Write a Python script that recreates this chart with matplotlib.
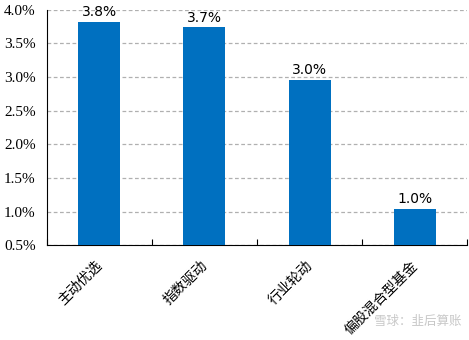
import numpy as np
import matplotlib
matplotlib.use('Agg')
import matplotlib.pyplot as plt
from matplotlib.ticker import FuncFormatter

# Dữ liệu
categories = ['主动优选', '指数驱动', '行业轮动', '偏股混合型基金']
values = [3.82, 3.74, 2.96, 1.04]
labels = ['3.8%', '3.7%', '3.0%', '1.0%']

BAR_COLOR = '#0070C0'

fig = plt.figure(figsize=(4.69, 3.40), dpi=100)
ax = fig.add_axes([0.100, 0.279, 0.896, 0.692])

x = np.arange(len(categories))
ax.bar(x, values, width=0.4, color=BAR_COLOR, zorder=3)

ax.set_ylim(0.5, 4.0)
ax.set_xlim(-0.5, len(categories) - 0.5)
ax.set_yticks(np.arange(0.5, 4.01, 0.5))
ax.yaxis.set_major_formatter(FuncFormatter(lambda v, p: f"{v:.1f}%"))
for t in ax.get_yticklabels():
    t.set_fontfamily('Liberation Serif')
    t.set_fontsize(11)
ax.tick_params(axis='y', length=0, pad=8)

# grid nét đứt
ax.yaxis.grid(True, linestyle=(0, (3, 2)), color='#B0B0B0', linewidth=0.9, zorder=0)

# tick ở ranh giới các cột
ax.set_xticks(np.arange(-0.5, len(categories), 1.0))
ax.set_xticklabels([])
ax.tick_params(axis='x', direction='in', length=4, width=0.8)

for s in ['top', 'right']:
    ax.spines[s].set_visible(False)
ax.spines['left'].set_color('black')
ax.spines['bottom'].set_color('black')

# nhãn danh mục xoay 45 độ
for i, c in enumerate(categories):
    ax.text(i - 0.04, 0.5 - 0.2, c, rotation=45, ha='right', va='top',
            rotation_mode='anchor', fontsize=10, family=['Noto Sans CJK SC', 'DejaVu Sans'])

# giá trị trên cột
for i, (v, l) in enumerate(zip(values, labels)):
    ax.text(i, v + 0.04, l, ha='center', va='bottom', fontsize=10,
            family='DejaVu Sans', zorder=4)

# watermark
fig.text(0.985, 0.035, '雪球：韭后算账', ha='right', va='bottom', fontsize=9,
         color='#C8C8C8', family=['Noto Sans CJK SC', 'DejaVu Sans'])

fig.savefig('out.png', dpi=100)
